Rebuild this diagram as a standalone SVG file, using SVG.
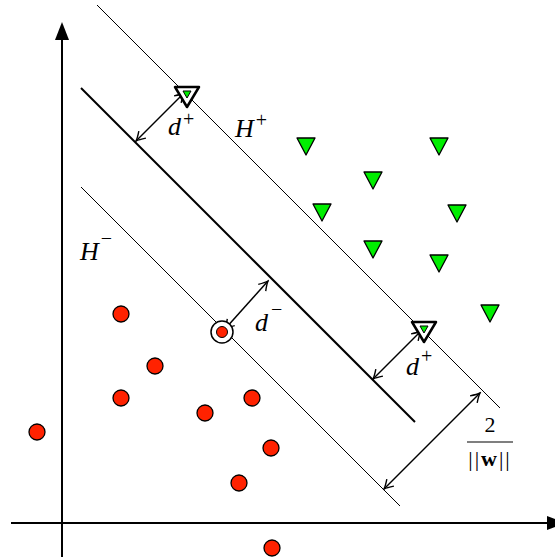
<svg xmlns="http://www.w3.org/2000/svg" width="555" height="560" viewBox="0 0 555 560">
<style>
.thin{stroke:#000;stroke-width:1;fill:none}
.thick{stroke:#000;stroke-width:2;fill:none}
.axis{stroke:#000;stroke-width:2;fill:none}
.dist{stroke:#000;stroke-width:1.5;fill:none;marker-start:url(#v);marker-end:url(#v)}
.pos{fill:#00ee00;stroke:#000;stroke-width:1.3;stroke-linejoin:round}
.neg{fill:#ff2200;stroke:#000;stroke-width:1.3}
.lbl{font-family:"Liberation Serif",serif;font-style:italic;font-size:26px;fill:#000}
.sup{font-family:"Liberation Serif",serif;font-style:normal;font-size:20px;fill:#000}
.frac{font-family:"Liberation Serif",serif;font-size:22px;fill:#000}
</style>
<defs>
<marker id="v" viewBox="-10 -6 12 12" refX="0" refY="0" markerWidth="12" markerHeight="12" markerUnits="userSpaceOnUse" orient="auto-start-reverse">
<path d="M-9,-5 Q-3,-1 0,0 Q-3,1 -9,5" fill="none" stroke="#000" stroke-width="1.4"/>
</marker>
<path id="tri" d="M-9,-8 L9,-8 L0,9 Z"/>
</defs>
<g id="axes">
<line class="axis" x1="62" y1="557" x2="62" y2="36"/>
<path d="M55,40 L62,22 L69,40 Z" fill="#000"/>
<line class="axis" x1="11" y1="523" x2="550" y2="523"/>
<path d="M547,516 L565,523 L547,530 Z" fill="#000"/>
</g>
<g id="connectors">
<line id="Hplus-line" class="thin" x1="97" y1="5" x2="500" y2="408"/>
<line id="mid-line" class="thick" x1="81" y1="88" x2="415" y2="422"/>
<line id="Hminus-line" class="thin" x1="81" y1="187" x2="400" y2="506"/>
<line class="dist" x1="136" y1="141" x2="184" y2="93"/>
<line class="dist" x1="373" y1="379" x2="421" y2="331"/>
<line class="dist" x1="225" y1="329" x2="268" y2="281"/>
<line class="dist" x1="384" y1="489" x2="480" y2="393"/>
</g>
<g id="positives">
<use href="#tri" class="pos" x="306" y="146"/>
<use href="#tri" class="pos" x="439" y="146"/>
<use href="#tri" class="pos" x="373" y="180"/>
<use href="#tri" class="pos" x="322" y="212"/>
<use href="#tri" class="pos" x="457" y="213"/>
<use href="#tri" class="pos" x="373" y="249"/>
<use href="#tri" class="pos" x="439" y="263"/>
<use href="#tri" class="pos" x="490" y="313"/>
</g>
<g id="sv-pos-1">
<path d="M175,87 L199,87 L187,107 Z" fill="#fff" stroke="#000" stroke-width="2.5" stroke-linejoin="round"/>
<path d="M183,91 L191,91 L187,98 Z" fill="#00ee00" stroke="#000" stroke-width="1"/>
</g>
<g id="sv-pos-2">
<path d="M412,322 L436,322 L424,342 Z" fill="#fff" stroke="#000" stroke-width="2.5" stroke-linejoin="round"/>
<path d="M420,326 L428,326 L424,333 Z" fill="#00ee00" stroke="#000" stroke-width="1"/>
</g>
<g id="negatives">
<circle class="neg" cx="121" cy="314" r="8"/>
<circle class="neg" cx="155" cy="366" r="8"/>
<circle class="neg" cx="121" cy="398" r="8"/>
<circle class="neg" cx="205" cy="413" r="8"/>
<circle class="neg" cx="252" cy="398" r="8"/>
<circle class="neg" cx="37" cy="432" r="8"/>
<circle class="neg" cx="271" cy="448" r="8"/>
<circle class="neg" cx="239" cy="483" r="8"/>
<circle class="neg" cx="272" cy="548" r="8"/>
</g>
<g id="sv-neg">
<circle cx="222" cy="332" r="11" fill="#fff" stroke="#000" stroke-width="1.5"/>
<circle cx="222" cy="332" r="5.5" fill="#ff2200" stroke="#000" stroke-width="1"/>
</g>
<g id="labels">
<text class="lbl" x="168" y="135">d<tspan class="sup" dx="2" dy="-9">+</tspan></text>
<text class="lbl" x="235" y="137">H<tspan class="sup" dx="2" dy="-10">+</tspan></text>
<text class="lbl" x="80" y="260">H<tspan class="sup" dx="2" dy="-15">−</tspan></text>
<text class="lbl" x="255" y="331">d<tspan class="sup" dx="3" dy="-15">−</tspan></text>
<text class="lbl" x="406" y="375">d<tspan class="sup" dx="2" dy="-12">+</tspan></text>
<text class="frac" x="490" y="432" text-anchor="middle">2</text>
<line x1="467" y1="442" x2="513" y2="442" stroke="#000" stroke-width="1.2"/>
<text class="frac" x="490" y="466" text-anchor="middle" letter-spacing="2">||<tspan font-weight="bold">w</tspan>||</text>
</g>
</svg>
